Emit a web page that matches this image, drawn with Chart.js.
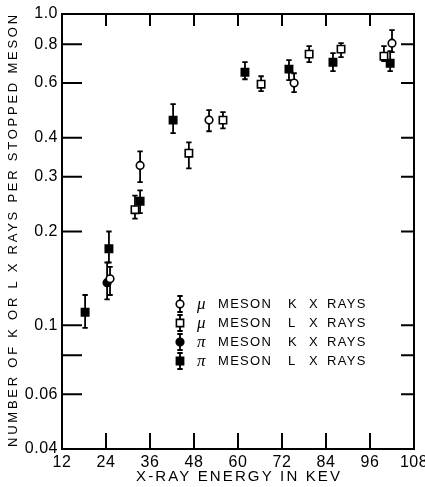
<!DOCTYPE html>
<html><head><meta charset="utf-8">
<script src="https://cdn.jsdelivr.net/npm/chart.js@4/dist/chart.umd.min.js"></script>
<style>html,body{margin:0;padding:0;background:#fff;}#wrap{position:relative;width:425px;height:487px;}</style>
</head><body><div id="wrap"><canvas id="c" width="425" height="487"></canvas></div>
<script>
// ---- data ----
const muK_x  = [25.1, 33.3, 52.1, 75.3, 102.0];
const muK_y  = [0.141, 0.326, 0.456, 0.600, 0.806];
const muK_lo = [0.125, 0.288, 0.420, 0.561, 0.754];
const muK_hi = [0.154, 0.362, 0.491, 0.645, 0.888];

const muL_x  = [31.9, 46.6, 55.9, 66.3, 79.4, 88.1, 99.8];
const muL_y  = [0.235, 0.357, 0.456, 0.595, 0.743, 0.771, 0.732];
const muL_lo = [0.220, 0.319, 0.429, 0.565, 0.700, 0.727, 0.706];
const muL_hi = [0.261, 0.387, 0.484, 0.631, 0.789, 0.806, 0.789];

const piK_x  = [24.3];
const piK_y  = [0.137];
const piK_lo = [0.121];
const piK_hi = [0.159];

const piL_x  = [18.3, 24.8, 33.3, 42.3, 61.9, 73.9, 85.9, 101.5];
const piL_y  = [0.110, 0.176, 0.250, 0.456, 0.650, 0.665, 0.700, 0.695];
const piL_lo = [0.098, 0.159, 0.229, 0.414, 0.617, 0.613, 0.655, 0.655];
const piL_hi = [0.125, 0.200, 0.271, 0.513, 0.700, 0.711, 0.749, 0.760];

const xTicks = [12, 24, 36, 48, 60, 72, 84, 96, 108];
const yTicks = [0.04, 0.06, 0.08, 0.1, 0.2, 0.3, 0.4, 0.6, 0.8, 1.0];
const yTickLabels = ['0.04', '0.06', '', '0.1', '0.2', '0.3', '0.4', '0.6', '0.8', '1.0'];

const seriesSymbols = ['μ', 'μ', 'π', 'π'];
const seriesShells = ['K', 'L', 'K', 'L'];
const legendWords = ['MESON', 'X', 'RAYS'];
const xTitle = 'X-RAY ENERGY IN KEV';
const yTitle = 'NUMBER OF K OR L X RAYS PER STOPPED MESON';

// ---- chart ----
const FONT = "'Liberation Sans', Arial, sans-serif";
const toPts = (xs, ys) => xs.map((x, i) => ({x: x, y: ys[i]}));
const mk = (label, xs, ys, lo, hi, style, fill) => ({
  label, data: toPts(xs, ys), lo, hi,
  pointStyle: style, pointRadius: style === 'rect' ? 5.2 : 3.8,
  backgroundColor: fill, borderColor: '#000', pointBorderWidth: 1.6, showLine: false
});

const errPlugin = {
  id: 'err',
  beforeDatasetsDraw(chart) {
    const {ctx} = chart, x = chart.scales.x, y = chart.scales.y;
    ctx.save();
    ctx.strokeStyle = '#000'; ctx.lineWidth = 1.8;
    chart.data.datasets.forEach(ds => {
      ds.data.forEach((p, i) => {
        const px = x.getPixelForValue(p.x);
        const yl = y.getPixelForValue(ds.lo[i]);
        const yh = y.getPixelForValue(ds.hi[i]);
        ctx.beginPath();
        ctx.moveTo(px, yl); ctx.lineTo(px, yh);
        ctx.moveTo(px - 2.7, yl); ctx.lineTo(px + 2.7, yl);
        ctx.moveTo(px - 2.7, yh); ctx.lineTo(px + 2.7, yh);
        ctx.stroke();
      });
    });
    ctx.restore();
  }
};

function drawMarker(ctx, style, fill, cx, cy) {
  ctx.beginPath();
  if (style === 'circle') ctx.arc(cx, cy, 3.8, 0, Math.PI * 2);
  else ctx.rect(cx - 3.6, cy - 3.6, 7.2, 7.2);
  ctx.fillStyle = fill; ctx.fill();
  ctx.lineWidth = 1.6; ctx.strokeStyle = '#000'; ctx.stroke();
}

function spacedText(ctx, text, cx, cy, target) {
  ctx.letterSpacing = '0px';
  const w = ctx.measureText(text).width;
  const sp = (target - w) / (text.length - 1);
  ctx.letterSpacing = sp.toFixed(2) + 'px';
  ctx.textAlign = 'left';
  ctx.fillText(text, cx - target / 2, cy);
}

const framePlugin = {
  id: 'frame',
  beforeDraw(chart) { chart.ctx.letterSpacing = '0.5px'; },
  afterDraw(chart) {
    const {ctx, chartArea: a} = chart, x = chart.scales.x, y = chart.scales.y;
    ctx.save();
    ctx.letterSpacing = '0px';
    ctx.strokeStyle = '#000';
    ctx.lineWidth = 2;
    ctx.strokeRect(a.left, a.top, a.right - a.left, a.bottom - a.top);
    // inward ticks
    ctx.beginPath();
    xTicks.slice(1, -1).forEach(v => {
      const px = x.getPixelForValue(v);
      ctx.moveTo(px, a.bottom); ctx.lineTo(px, a.bottom - 16);
      ctx.moveTo(px, a.top); ctx.lineTo(px, a.top + 12);
    });
    yTicks.slice(1, -1).forEach(v => {
      const py = y.getPixelForValue(v);
      ctx.moveTo(a.left, py); ctx.lineTo(a.left + 20, py);
      ctx.moveTo(a.right, py); ctx.lineTo(a.right - 13, py);
    });
    ctx.stroke();

    // axis titles
    ctx.fillStyle = '#000';
    ctx.textBaseline = 'middle';
    ctx.font = '15px ' + FONT;
    spacedText(ctx, xTitle, 238, 477, 204);
    ctx.save();
    ctx.translate(13, 231);
    ctx.rotate(-Math.PI / 2);
    ctx.font = '13px ' + FONT;
    spacedText(ctx, yTitle, 0, 0, 432);
    ctx.restore();

    // legend
    const ds = chart.data.datasets;
    const rows = [304, 323, 342, 361];
    ds.forEach((d, i) => {
      const ry = rows[i], mx = 180;
      ctx.lineWidth = 1.8; ctx.strokeStyle = '#000';
      ctx.beginPath();
      ctx.moveTo(mx, ry - 8); ctx.lineTo(mx, ry + 8);
      ctx.moveTo(mx - 2.7, ry - 8); ctx.lineTo(mx + 2.7, ry - 8);
      ctx.moveTo(mx - 2.7, ry + 8); ctx.lineTo(mx + 2.7, ry + 8);
      ctx.stroke();
      drawMarker(ctx, d.pointStyle, d.backgroundColor, mx, ry);
      ctx.fillStyle = '#000';
      ctx.textAlign = 'left';
      ctx.letterSpacing = '0px';
      ctx.font = 'italic 17px "Liberation Serif", "DejaVu Serif", serif';
      ctx.fillText(seriesSymbols[i], 197, ry + 1);
      ctx.font = '13px ' + FONT;
      ctx.letterSpacing = '1.3px';
      ctx.fillText(legendWords[0], 218, ry);
      ctx.fillText(seriesShells[i], 288, ry);
      ctx.fillText(legendWords[1], 309, ry);
      ctx.fillText(legendWords[2], 327, ry);
    });
    ctx.restore();
  }
};

Chart.defaults.color = '#000';
new Chart(document.getElementById('c'), {
  type: 'scatter',
  data: {
    datasets: [
      mk('μ MESON K X RAYS', muK_x, muK_y, muK_lo, muK_hi, 'circle', '#fff'),
      mk('μ MESON L X RAYS', muL_x, muL_y, muL_lo, muL_hi, 'rect', '#fff'),
      mk('π MESON K X RAYS', piK_x, piK_y, piK_lo, piK_hi, 'circle', '#000'),
      mk('π MESON L X RAYS', piL_x, piL_y, piL_lo, piL_hi, 'rect', '#000')
    ]
  },
  options: {
    responsive: false, animation: false,
    layout: {padding: {left: 0, right: 11, top: 14, bottom: 0}},
    plugins: {legend: {display: false}, tooltip: {enabled: false}},
    scales: {
      x: {
        type: 'linear', min: 12, max: 108,
        afterBuildTicks: s => { s.ticks = xTicks.map(v => ({value: v})); },
        ticks: {font: {family: FONT, size: 16}, color: '#000', padding: 4, maxRotation: 0, autoSkip: false,
                callback: v => String(v)},
        grid: {display: false, drawTicks: false}, border: {display: false},
        afterFit: s => { s.height = 38; s.paddingLeft = 0; s.paddingRight = 0; }
      },
      y: {
        type: 'logarithmic', min: 0.04, max: 1.0,
        afterBuildTicks: s => { s.ticks = yTicks.map(v => ({value: v})); },
        ticks: {font: {family: FONT, size: 16}, color: '#000', padding: 4, autoSkip: false,
                callback: v => yTickLabels[yTicks.indexOf(v)]},
        grid: {display: false, drawTicks: false}, border: {display: false},
        afterFit: s => { s.width = 62; s.paddingTop = 0; s.paddingBottom = 0; }
      }
    }
  },
  plugins: [errPlugin, framePlugin]
});
</script>
</body></html>
